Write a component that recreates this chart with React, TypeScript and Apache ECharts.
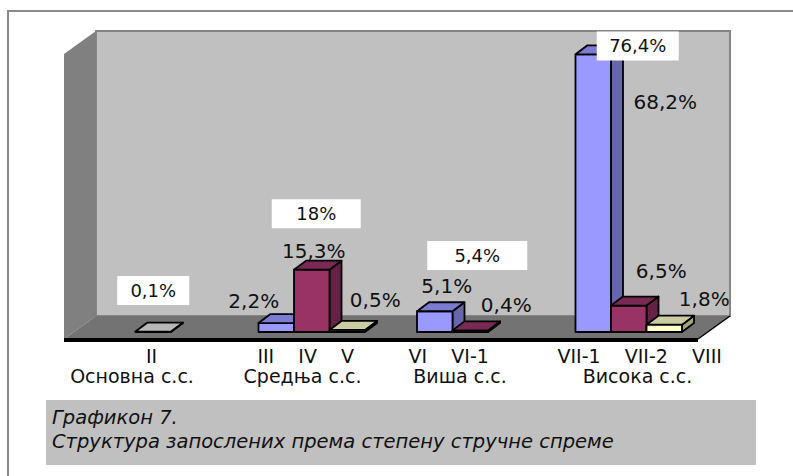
import React, { useEffect, useRef } from "react";
import * as echarts from "echarts";

// ---- data ----
const groups = ["Основна с.с.", "Средња с.с.", "Виша с.с.", "Висока с.с."];
const subLabels = ["II", "III    IV    V", "VI    VI-1", "VII-1    VII-2    VIII"];
const blueValues: (number | null)[] = [null, 2.2, 5.1, 68.2]; // III, VI, VII-1
const grayValues: (number | null)[] = [0.1, null, null, null]; // II
const maroonValues: (number | null)[] = [null, 15.3, 0.4, 6.5]; // IV, VI-1, VII-2
const yellowValues: (number | null)[] = [null, 0.5, null, 1.8]; // V, VIII
const groupTotals = [0.1, 18, 5.4, 76.4];
const totalLabels = ["0,1%", "18%", "5,4%", "76,4%"];
const yMax = 70;

// ---- layout (positions / styles) ----
const FONT = '"DejaVu Sans", Verdana, sans-serif';
const BAR_FRACTION = 0.224;
const BAR_DEPTH = [12, -9];
const BACK = [22, -16];
const FRONT = [-10, 7];
const blueLabelOffsets = [null, [-22.5, -22.5], [12, -25.7], [72, 48]];
const grayLabelOffsets = [null, null, null, null];
const maroonLabelOffsets = [null, [2, -19], [36, -25], [32.5, -34.5]];
const yellowLabelOffsets = [null, [28, -30], null, [40, -26]];
const totalOffsets = [[0, -41], [4.5, -45], [7, -54.5], [9, 25]];
const totalBoxW = [72, 89, 100, 82];
const line1Shift = [-1.75, -6, -21.5, 10.9];
const line2Shift = [-21.25, -9.25, -10.25, 8.75];

const fmt = (v: number) => String(v).replace(".", ",") + "%";

function barSeries(
  name: string,
  values: (number | null)[],
  slot: number,
  colors: { front: string; top: string; side: string },
  offsets: any[]
) {
  const data = values
    .map((v, i) => (v == null ? null : [i, v]))
    .filter((d) => d != null);
  return {
    type: "custom",
    name,
    z: 2,
    data,
    encode: { x: 0, y: 1 },
    renderItem: (params: any, api: any) => {
      const gi = api.value(0);
      const v = api.value(1);
      const band = api.size([1, 0])[0];
      const bw = band * BAR_FRACTION;
      const base = api.coord([gi, 0]);
      const top = api.coord([gi, v]);
      const x0 = base[0] + (slot - 1) * bw - bw / 2;
      const y0 = base[1];
      const y1 = top[1];
      const dx = BAR_DEPTH[0];
      const dy = BAR_DEPTH[1];
      const st = { stroke: "#000", lineWidth: 1.8, lineJoin: "round" };
      const children: any[] = [
        {
          type: "polygon",
          shape: { points: [[x0 + bw, y1], [x0 + bw + dx, y1 + dy], [x0 + bw + dx, y0 + dy], [x0 + bw, y0]] },
          style: { fill: colors.side, ...st },
        },
        {
          type: "rect",
          shape: { x: x0, y: y1, width: bw, height: y0 - y1 },
          style: { fill: colors.front, ...st },
        },
        {
          type: "polygon",
          shape: { points: [[x0, y1], [x0 + bw, y1], [x0 + bw + dx, y1 + dy], [x0 + dx, y1 + dy]] },
          style: { fill: colors.top, ...st },
        },
      ];
      const off = offsets[gi];
      if (off) {
        children.push({
          type: "text",
          z2: 20,
          style: {
            text: fmt(v),
            x: x0 + bw / 2 + off[0],
            y: y1 + off[1],
            fill: "#111",
            font: `20px ${FONT}`,
            align: "center",
            verticalAlign: "middle",
          },
        });
      }
      return { type: "group", children };
    },
  };
}

const padFor = (s: number) => (s < 0 ? [0, -2 * s, 0, 0] : [0, 0, 0, 2 * s]);

export default function App() {
  const ref = useRef<HTMLDivElement>(null);
  useEffect(() => {
    if (!ref.current) return;
    const chart = echarts.init(ref.current, null, { renderer: "svg" });
    const rich: any = {};
    groups.forEach((_, i) => {
      rich["a" + i] = { fontFamily: FONT, fontSize: 19, lineHeight: 20, color: "#111", padding: padFor(line1Shift[i]) };
      rich["b" + i] = { fontFamily: FONT, fontSize: 19, lineHeight: 20, color: "#111", padding: padFor(line2Shift[i]) };
    });
    chart.setOption({
      animation: false,
      backgroundColor: "#fff",
      grid: { left: 74, top: 47, width: 634, height: 285, containLabel: false, outerBoundsMode: "none" },
      xAxis: {
        type: "category",
        data: groups,
        axisLine: { show: false },
        axisTick: { show: false },
        splitLine: { show: false },
        axisLabel: {
          interval: 0,
          margin: 14,
          formatter: (val: string, idx: number) => `{a${idx}|${subLabels[idx]}}\n{b${idx}|${val}}`,
          rich,
        },
      },
      yAxis: { type: "value", min: 0, max: yMax, show: false, splitLine: { show: false } },
      graphic: [
        {
          type: "rect",
          shape: { x: 8, y: 11, width: 820, height: 520 },
          style: { fill: "none", stroke: "#8a8a8a", lineWidth: 2 },
          z: 0,
        },
        {
          type: "rect",
          shape: { x: 46, y: 400, width: 710, height: 65 },
          style: { fill: "#c0c0c0" },
          z: 0,
        },
        {
          type: "text",
          x: 52,
          y: 405,
          style: {
            text: "Графикон 7.\nСтруктура запослених према степену стручне спреме",
            font: `italic 19.5px ${FONT}`,
            lineHeight: 24,
            fill: "#111",
            align: "left",
            verticalAlign: "top",
          },
          z: 1,
        },
      ],
      series: [
        {
          type: "custom",
          name: "walls",
          z: 1,
          data: [[0, 0]],
          renderItem: (params: any) => {
            const cs = params.coordSys;
            const gx = cs.x, gy = cs.y, gw = cs.width, gh = cs.height;
            const [bx, by] = BACK;
            const [fx, fy] = FRONT;
            return {
              type: "group",
              children: [
                {
                  type: "rect",
                  shape: { x: gx + bx, y: gy + by, width: gw, height: gh },
                  style: { fill: "#c0c0c0", stroke: "#858585", lineWidth: 2 },
                },
                {
                  type: "polygon",
                  shape: { points: [[gx + fx, gy + fy], [gx + bx, gy + by], [gx + bx, gy + gh + by], [gx + fx, gy + gh + fy]] },
                  style: { fill: "#808080" },
                },
                {
                  type: "polygon",
                  shape: {
                    points: [
                      [gx + fx, gy + gh + fy],
                      [gx + gw + fx, gy + gh + fy],
                      [gx + gw + bx, gy + gh + by],
                      [gx + bx, gy + gh + by],
                    ],
                  },
                  style: { fill: "#737373" },
                },
                {
                  type: "line",
                  shape: { x1: gx + gw + fx, y1: gy + gh + fy, x2: gx + gw + bx, y2: gy + gh + by },
                  style: { stroke: "#000", lineWidth: 1.5 },
                },
                {
                  type: "line",
                  shape: { x1: gx + fx, y1: gy + gh + fy + 1, x2: gx + gw + fx, y2: gy + gh + fy + 1 },
                  style: { stroke: "#000", lineWidth: 4 },
                },
              ],
            };
          },
        },
        barSeries("blue", blueValues, 0, { front: "#9999ff", top: "#7b7bd0", side: "#6666aa" }, blueLabelOffsets),
        barSeries("gray", grayValues, 1, { front: "#c0c0c0", top: "#b8b8b8", side: "#999999" }, grayLabelOffsets),
        barSeries("maroon", maroonValues, 1, { front: "#993366", top: "#7a2952", side: "#662244" }, maroonLabelOffsets),
        barSeries("yellow", yellowValues, 2, { front: "#ffffcc", top: "#cccca3", side: "#a3a37a" }, yellowLabelOffsets),
        {
          type: "custom",
          name: "totals",
          z: 3,
          data: groupTotals.map((t, i) => [i, t]),
          encode: { x: 0, y: 1 },
          renderItem: (params: any, api: any) => {
            const gi = api.value(0);
            const t = api.value(1);
            const c = api.coord([gi, t]);
            const cx = c[0] + totalOffsets[gi][0];
            const cy = c[1] + totalOffsets[gi][1];
            const w = totalBoxW[gi];
            return {
              type: "group",
              children: [
                { type: "rect", shape: { x: cx - w / 2, y: cy - 14.5, width: w, height: 29 }, style: { fill: "#fff" } },
                {
                  type: "text",
                  style: {
                    text: totalLabels[gi],
                    x: cx,
                    y: cy,
                    fill: "#111",
                    font: `18px ${FONT}`,
                    align: "center",
                    verticalAlign: "middle",
                  },
                },
              ],
            };
          },
        },
      ],
    });
    return () => chart.dispose();
  }, []);
  return <div ref={ref} style={{ position: "absolute", left: 0, top: 0, width: 793, height: 476 }} />;
}
